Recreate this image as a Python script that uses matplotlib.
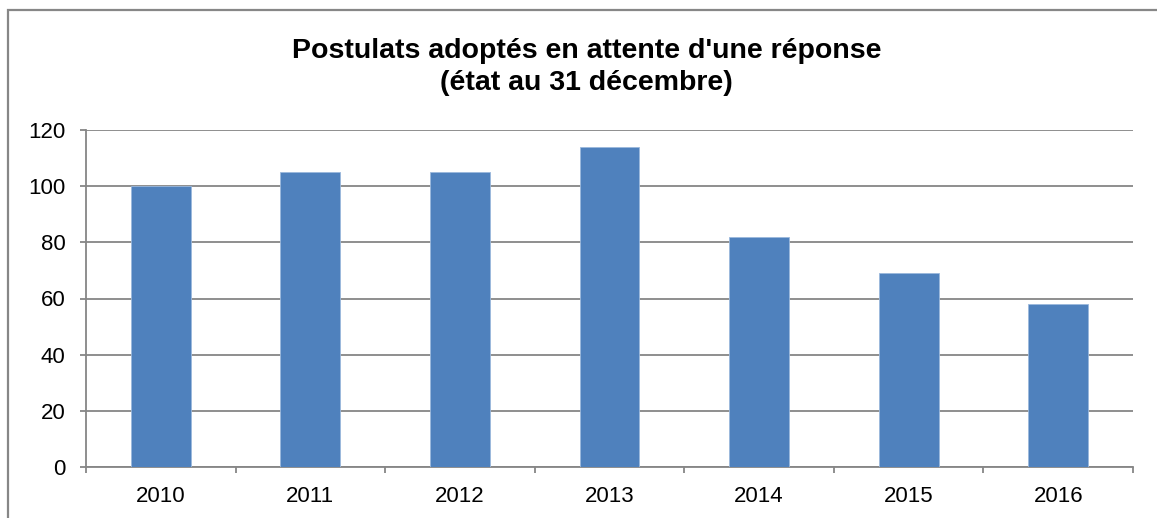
import matplotlib.pyplot as plt
from matplotlib.patches import Rectangle

# data
years = ['2010', '2011', '2012', '2013', '2014', '2015', '2016']
postulats = [100, 105, 105, 114, 82, 69, 58]

yticks = [0, 20, 40, 60, 80, 100, 120]

plt.rcParams['font.family'] = ['Liberation Sans', 'DejaVu Sans']

W, H = 1157, 518
fig = plt.figure(figsize=(W / 100, H / 100), dpi=100)
fig.patch.set_facecolor('white')

# chart frame (cut off on right and bottom like the reference)
frame = Rectangle((8 / W, -0.5), 2.0, 1 - 10 / H + 0.5, transform=fig.transFigure,
                  fill=False, edgecolor='#878787', linewidth=1.6, clip_on=False)
fig.patches.append(frame)

ax = fig.add_axes([86 / W, 1 - 467 / H, (1133 - 86) / W, (467 - 130) / H])

x = list(range(len(years)))
ax.bar(x, postulats, width=0.4, color='#4F81BD', edgecolor='#9bb8dc', linewidth=0.6, zorder=3)

ax.set_xlim(-0.5, len(years) - 0.5)
ax.set_ylim(0, 120)
ax.set_yticks(yticks)
ax.set_yticklabels([str(v) for v in yticks])
ax.set_xticks(x)
ax.set_xticklabels(years)
ax.set_xticks([i - 0.5 for i in range(len(years) + 1)], minor=True)

ax.grid(axis='y', color='#868686', linewidth=1.3, zorder=0)
ax.set_axisbelow(True)

for s in ['top', 'right']:
    ax.spines[s].set_visible(False)
for s in ['left', 'bottom']:
    ax.spines[s].set_color('#868686')
    ax.spines[s].set_linewidth(1.3)

ax.tick_params(axis='y', direction='out', length=4.3, width=1.3, color='#868686',
               labelsize=16, pad=10.5)
ax.tick_params(axis='x', which='major', length=0, labelsize=16, pad=13.5)
ax.tick_params(axis='x', which='minor', direction='out', length=4, width=1.3, color='#868686')

fig.text(586.5 / W, 1 - 58 / H, "Postulats adoptés en attente d'une réponse",
         ha='center', va='baseline', fontsize=20.5, fontweight='bold')
fig.text(586.5 / W, 1 - 90 / H, "(état au 31 décembre)",
         ha='center', va='baseline', fontsize=20.5, fontweight='bold')

fig.savefig('out.png', dpi=100)
